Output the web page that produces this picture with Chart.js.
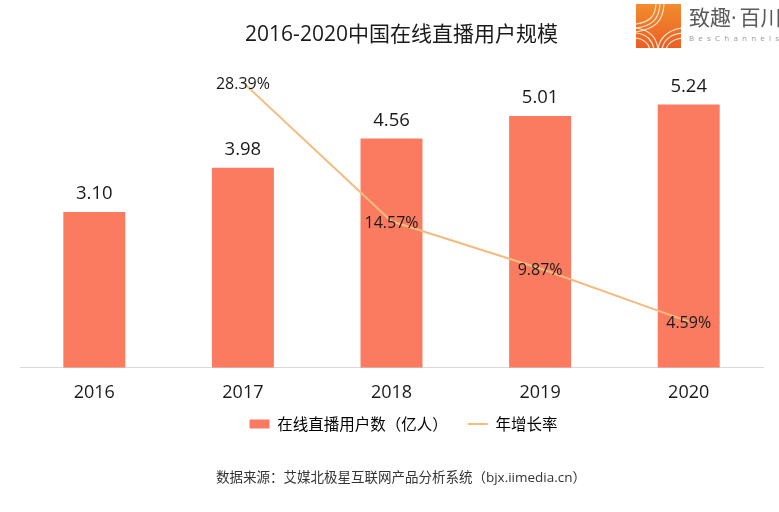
<!DOCTYPE html>
<html lang="zh">
<head>
<meta charset="utf-8">
<style>
html,body{margin:0;padding:0;background:#fff;width:779px;height:512px;overflow:hidden}
#wrap{position:relative;width:779px;height:512px}
canvas{position:absolute;left:0;top:0}
#logo{position:absolute;left:0;top:0}
</style>
<script src="https://cdn.jsdelivr.net/npm/chart.js@4"></script>
</head>
<body>
<div id="wrap">
<canvas id="c" width="779" height="512"></canvas>
<svg id="logo" width="779" height="60" viewBox="0 0 779 60">
  <defs><linearGradient id="g" x1="0" y1="0" x2="0" y2="1">
    <stop offset="0" stop-color="#F28C2E"/><stop offset="1" stop-color="#EA5F24"/></linearGradient>
    <clipPath id="cp"><rect x="636" y="4" width="45" height="44"/></clipPath></defs>
  <rect x="636" y="4" width="45" height="44" fill="url(#g)"/>
  <g clip-path="url(#cp)" fill="none" stroke="#FBE3CC" stroke-width="1.2">
    <path d="M656 2 C656 16 650 22 636 24"/><path d="M660 2 C660 19 652 26 636 28"/><path d="M664 2 C664 22 654 29 636 32"/>
    <path d="M636 28 C650 30 657 38 658 50"/><path d="M636 33 C647 34 653 41 654 50"/><path d="M636 38 C644 39 649 44 650 50"/>
    <path d="M658 50 C659 38 668 30 682 28"/><path d="M662 50 C663 40 671 34 682 33"/><path d="M666 50 C667 43 674 39 682 38"/>
  </g>
  <text x="689" y="25" font-family="'Noto Sans CJK SC'" font-size="21" fill="#5a5a5a">致趣<tspan font-family="'Open Sans'">·</tspan><tspan dx="3">百川</tspan></text>
  <text x="689" y="41" font-family="'Open Sans'" font-size="8" fill="#999" letter-spacing="4.2">BesChannels</text>
</svg>
</div>
<script>
const categories = ['2016', '2017', '2018', '2019', '2020'];
const users = [3.10, 3.98, 4.56, 5.01, 5.24];
const growth = [null, 28.39, 14.57, 9.87, 4.59];
const titleText = '2016-2020中国在线直播用户规模';
const barName = '在线直播用户数（亿人）';
const lineName = '年增长率';
const sourceText = '数据来源：艾媒北极星互联网产品分析系统（bjx.iimedia.cn）';
const FONT = "'Open Sans','Noto Sans CJK SC',sans-serif";
const CJK = "'Noto Sans CJK SC',sans-serif";

const labelsPlugin = {
  id: 'valueLabels',
  afterDatasetsDraw(chart) {
    const ctx = chart.ctx;
    ctx.save();
    ctx.textAlign = 'center';
    ctx.textBaseline = 'middle';
    ctx.fillStyle = '#1a1a1a';
    ctx.font = '18.5px ' + FONT;
    chart.getDatasetMeta(1).data.forEach((el, i) => {
      ctx.fillText(users[i].toFixed(2), el.x, el.y - 18);
    });
    ctx.font = '16px ' + FONT;
    chart.getDatasetMeta(0).data.forEach((el, i) => {
      if (growth[i] !== null) ctx.fillText(growth[i].toFixed(2) + '%', el.x, el.y + 2);
    });
    ctx.restore();
  }
};
const shiftPlugin = {
  id: 'shiftBlocks',
  afterLayout(chart) {
    chart.boxes.forEach(b => {
      if (b === chart.titleBlock) { b.left = 40; }
      else if (b === chart.legend) { b.left = 44; b.top -= 21; b.bottom -= 21; }
      else if (b.options && b.options.text === sourceText) { b.left = 39; }
    });
  }
};

new Chart(document.getElementById('c'), {
  data: {
    labels: categories,
    datasets: [
      { type: 'line', label: lineName, data: growth, yAxisID: 'y1', order: 0,
        borderColor: '#F3BC7E', borderWidth: 2, pointRadius: 0, tension: 0, fill: false },
      { type: 'bar', label: barName, data: users, yAxisID: 'y', order: 1,
        backgroundColor: '#FA7B60', barPercentage: 0.417, categoryPercentage: 1 }
    ]
  },
  options: {
    responsive: false,
    animation: false,
    layout: { padding: { left: 20, right: 16, top: 0, bottom: 0 } },
    scales: {
      x: { grid: { display: false, drawTicks: false },
           border: { display: true, color: '#D9D9D9', width: 1 },
           ticks: { color: '#1a1a1a', font: { family: FONT, size: 18 }, padding: 14 } },
      y: { display: false, min: 0, max: 6 },
      y1: { display: false, min: 0, max: 30 }
    },
    plugins: {
      tooltip: { enabled: false },
      title: { display: true, text: titleText, color: '#1a1a1a',
               font: { family: FONT, size: 21, weight: 'normal' }, padding: { top: 22, bottom: 19 } },
      legend: { display: true, position: 'bottom',
        labels: {
          color: '#222', font: { family: CJK, size: 15.5 }, padding: 20, boxHeight: 9,
          usePointStyle: true, pointStyleWidth: 20,
          generateLabels() {
            return [
              { text: barName, fillStyle: '#FA7B60', strokeStyle: '#FA7B60', lineWidth: 0, pointStyle: 'rect', datasetIndex: 1 },
              { text: lineName, fillStyle: '#F3BC7E', strokeStyle: '#F3BC7E', lineWidth: 2, pointStyle: 'line', datasetIndex: 0 }
            ];
          }
        } },
      subtitle: { display: true, text: sourceText, position: 'bottom', color: '#333',
        font: { family: FONT, size: 13.5, weight: 'normal' }, padding: { top: 7, bottom: 26 } }
    }
  },
  plugins: [labelsPlugin, shiftPlugin]
});
</script>
</body>
</html>
